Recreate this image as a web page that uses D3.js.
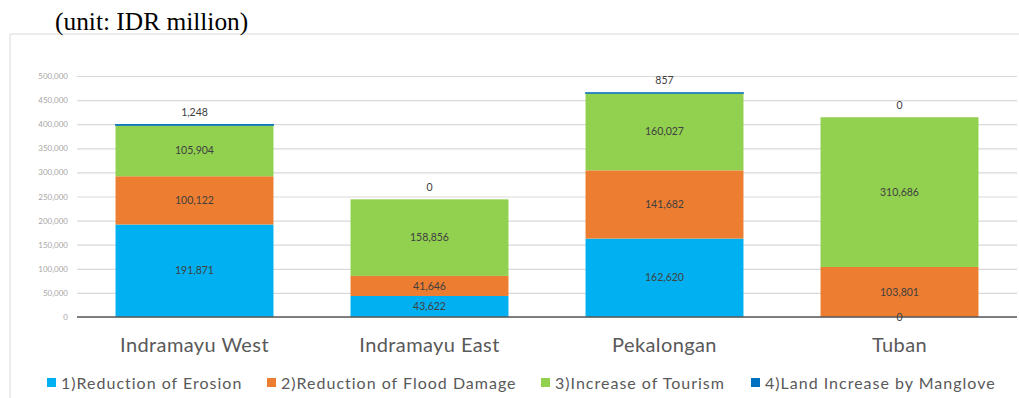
<!DOCTYPE html>
<html>
<head>
<meta charset="utf-8">
<script src="https://cdn.jsdelivr.net/npm/d3@7"></script>
<style>
  html, body { margin: 0; padding: 0; background: #fff; }
  svg { display: block; }
</style>
</head>
<body>
<svg id="chart" width="1019" height="398"></svg>
<script>
// Benefit estimates per site (IDR million)
const sites = ["Indramayu West", "Indramayu East", "Pekalongan", "Tuban"];
const seriesNames = [
  "1)Reduction of Erosion",
  "2)Reduction of Flood Damage",
  "3)Increase of Tourism",
  "4)Land Increase by Manglove"
];
const erosion   = [191871, 43622, 162620, 0];
const flood     = [100122, 41646, 141682, 103801];
const tourism   = [105904, 158856, 160027, 310686];
const manglove  = [1248, 0, 857, 0];
const yTicks = [0, 50000, 100000, 150000, 200000, 250000, 300000, 350000, 400000, 450000, 500000];
const colors = ["#00B0F0", "#ED7D31", "#92D050", "#0070C0"];

const svg = d3.select("#chart");
const sans = "Lato, 'Open Sans', sans-serif";

// outer frame
svg.append("line").attr("x1", 10).attr("x2", 1019).attr("y1", 34).attr("y2", 34)
  .attr("stroke", "#d9d9d9").attr("stroke-width", 1);
svg.append("line").attr("x1", 10).attr("x2", 10).attr("y1", 34).attr("y2", 398)
  .attr("stroke", "#d9d9d9").attr("stroke-width", 1);

// unit caption
svg.append("text").attr("x", 55).attr("y", 30)
  .attr("font-family", "'Liberation Serif', 'Times New Roman', serif")
  .attr("font-size", 25.4).attr("fill", "#000")
  .text("(unit: IDR million)");

const x = d3.scaleBand().domain(sites).range([77, 1017])
  .paddingInner(0.328).paddingOuter(0.164);
const y = d3.scaleLinear().domain([0, 500000]).range([317, 76]);

// gridlines + tick labels
const yAxis = d3.axisLeft(y).tickValues(yTicks).tickFormat(d3.format(","))
  .tickSize(-(1017 - 77)).tickPadding(9);
const gy = svg.append("g").attr("transform", "translate(77,0)").call(yAxis);
gy.select(".domain").remove();
gy.selectAll(".tick line").attr("stroke", "#d9d9d9").attr("stroke-width", 1.2);
gy.selectAll(".tick text").attr("font-family", sans).attr("font-size", 8)
  .attr("fill", "#a6a6a6");

// stacked bars
const rows = sites.map((s, i) => ({ site: s, v0: erosion[i], v1: flood[i], v2: tourism[i], v3: manglove[i] }));
const stack = d3.stack().keys(["v0", "v1", "v2", "v3"]);
const layers = stack(rows);

const gBars = svg.append("g");
layers.forEach((layer, li) => {
  gBars.selectAll(null).data(layer).enter().append("rect")
    .attr("x", d => x(d.data.site))
    .attr("width", x.bandwidth())
    .attr("y", d => y(d[1]))
    .attr("height", d => Math.max(0, y(d[0]) - y(d[1])))
    .attr("fill", colors[li])
    // thin top segment gets an outline so it stays visible
    .attr("stroke", d => (li === 3 && d[1] > d[0]) ? colors[li] : "none")
    .attr("stroke-width", 1);
});

// baseline
svg.append("line").attr("x1", 77).attr("x2", 1017).attr("y1", y(0)).attr("y2", y(0))
  .attr("stroke", "#595959").attr("stroke-width", 1.5);

// value labels
const fmt = d3.format(",");
const gLab = svg.append("g").attr("font-family", sans).attr("font-size", 10.5)
  .attr("fill", "#404040").attr("text-anchor", "middle");
layers.forEach((layer, li) => {
  gLab.selectAll(null).data(layer).enter().append("text")
    .attr("x", d => x(d.data.site) + x.bandwidth() / 2)
    .attr("y", d => li === 3 ? y(d[1]) - 12 : (y(d[0]) + y(d[1])) / 2)
    .attr("dy", "0.35em")
    .text(d => fmt(d[1] - d[0]));
});

// category labels
svg.append("g").selectAll("text").data(sites).enter().append("text")
  .attr("x", d => x(d) + x.bandwidth() / 2)
  .attr("y", 352)
  .attr("text-anchor", "middle")
  .attr("font-family", sans).attr("font-size", 20).attr("letter-spacing", 0.4)
  .attr("fill", "#595959")
  .text(d => d);

// legend
const legendX = [47, 267, 541, 751];
const gLeg = svg.append("g");
seriesNames.forEach((name, i) => {
  gLeg.append("rect").attr("x", legendX[i]).attr("y", 378).attr("width", 9).attr("height", 9)
    .attr("fill", colors[i]);
  gLeg.append("text").attr("x", legendX[i] + 14).attr("y", 388.5)
    .attr("font-family", sans).attr("font-size", 16).attr("letter-spacing", 1)
    .attr("fill", "#595959")
    .text(name);
});
</script>
</body>
</html>
